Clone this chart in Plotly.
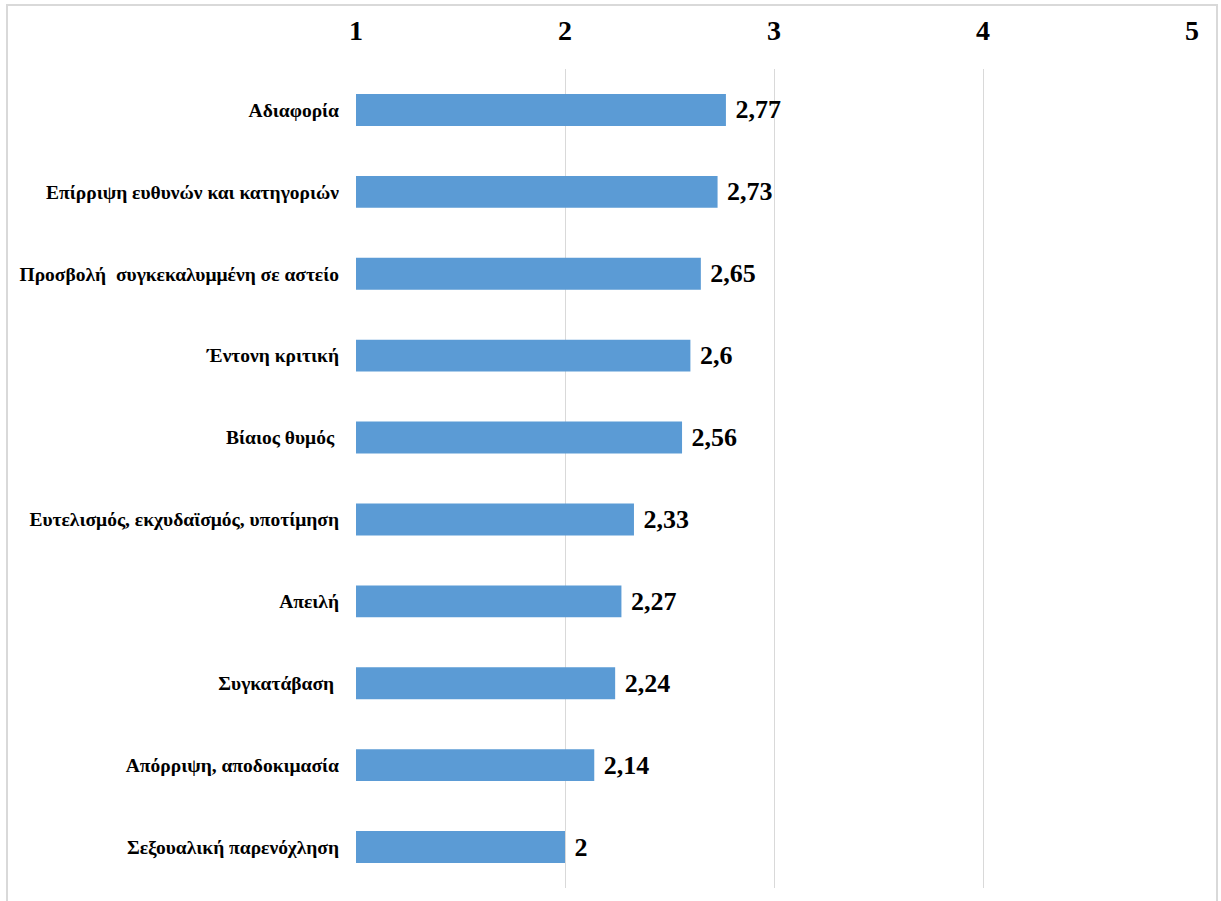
import plotly.graph_objects as go

# Mean scores per behaviour (scale 1-5), listed top to bottom
categories = [
    "Αδιαφορία",
    "Επίρριψη ευθυνών και κατηγοριών",
    "Προσβολή  συγκεκαλυμμένη σε αστείο",
    "Έντονη κριτική",
    "Βίαιος θυμός ",
    "Ευτελισμός, εκχυδαϊσμός, υποτίμηση",
    "Απειλή",
    "Συγκατάβαση ",
    "Απόρριψη, αποδοκιμασία",
    "Σεξουαλική παρενόχληση",
]
scores = [2.77, 2.73, 2.65, 2.6, 2.56, 2.33, 2.27, 2.24, 2.14, 2.0]
tick_values = [1, 2, 3, 4, 5]

W, H = 1221, 901
ML, MR, MT, MB = 356, 29, 69, 13
pw, ph = W - ML - MR, H - MT - MB

FONT = "Liberation Serif"

fig = go.Figure(
    go.Bar(
        x=scores,
        y=categories,
        orientation="h",
        marker=dict(color="#5B9BD5", line=dict(width=0)),
        width=0.39,
        texttemplate="\u00a0%{x}",
        textposition="outside",
        textfont=dict(family=FONT, size=26, color="#000000", weight="bold"),
        cliponaxis=False,
    )
)

# light frame around the chart area
def px_to_paper_x(px):
    return (px - ML) / pw

def px_to_paper_y(py):
    return 1 - (py - MT) / ph

fig.add_shape(
    type="rect", xref="paper", yref="paper",
    x0=px_to_paper_x(7), x1=px_to_paper_x(1217),
    y0=px_to_paper_y(906), y1=px_to_paper_y(5),
    line=dict(color="#D9D9D9", width=2), fillcolor="rgba(0,0,0,0)",
    layer="below",
)

fig.update_layout(
    width=W, height=H,
    margin=dict(l=ML, r=MR, t=MT, b=MB, pad=0),
    paper_bgcolor="white",
    plot_bgcolor="white",
    separators=",.",
    showlegend=False,
    bargap=0.61,
    xaxis=dict(
        side="top",
        range=[1, 5],
        tickvals=tick_values,
        showgrid=True,
        gridcolor="#D9D9D9",
        gridwidth=1,
        zeroline=False,
        showline=False,
        ticks="",
        ticklabelstandoff=22,
        tickfont=dict(family=FONT, size=28, color="#000000", weight="bold"),
    ),
    yaxis=dict(
        autorange="reversed",
        showgrid=False,
        zeroline=False,
        showline=False,
        ticks="",
        ticklabelstandoff=16,
        tickfont=dict(family=FONT, size=19.5, color="#000000", weight="bold"),
    ),
)

fig.write_html("out.html")
